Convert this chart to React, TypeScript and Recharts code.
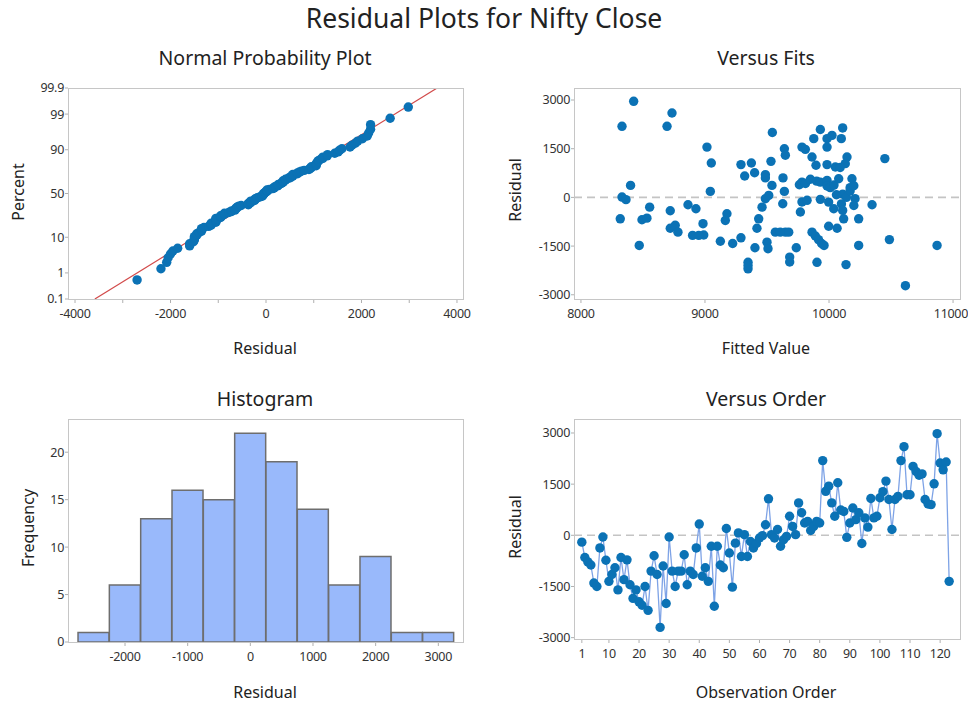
import React from 'react';
import {
  ScatterChart, Scatter, XAxis, YAxis, ReferenceLine, BarChart, Bar,
} from 'recharts';

// ---------- DATA ----------
// Residuals in observation order (Versus Order panel)
const residuals: number[] = [
  -200, -650, -780, -870, -1400, -1500, -370, -50, -730, -1350,
  -1150, -950, -1600, -650, -1300, -720, -1450, -1850, -1600, -1950,
  -2050, -1500, -2200, -1050, -600, -1150, -2700, -900, -2000, -50,
  -1050, -1500, -1050, -1050, -570, -1450, -1050, -1150, -370, 330,
  -1200, -950, -1350, -320, -2080, -320, -870, -950, 200, -520,
  -1520, -230, 70, -620, 20, -620, -180, -370, -240, -80,
  -10, 310, 1070, 20, -80, 170, -320, -130, -30, 560,
  260, 20, 950, 660, 360, 410, 140, 260, 410, 360,
  2190, 1290, 1440, 950, 560, 1540, 740, 700, -60, 360,
  800, 460, 660, -240, 510, 240, 1080, 510, 560, 1100,
  1280, 1590, 1050, 170, 1050, 1140, 2190, 2600, 1190, 1190,
  2020, 1870, 1760, 1800, 1050, 920, 900, 1510, 2980, 2120,
  1920, 2150, -1350,
];

// Versus Fits scatter: fitted values and residuals
const fittedValues: number[] = [
  8425, 8331, 8694, 8734, 8400, 8331, 8363, 8317, 8470, 8554,
  8492, 8532, 8720, 8720, 8760, 8782, 8863, 8927, 8900, 8990,
  8950, 9016, 9051, 9043, 9124, 9177, 9164, 9223, 9290, 9290,
  9320, 9374, 9400, 9347, 9347, 9347, 9403, 9419, 9433, 9460,
  9487, 9514, 9487, 9487, 9532, 9543, 9540, 9500, 9508, 9567,
  9607, 9648, 9675, 9629, 9640, 9627, 9640, 9648, 9683, 9683,
  9736, 9782, 9809, 9761, 9782, 9769, 9782, 9823, 9863, 9895,
  9877, 9930, 9984, 9984, 10024, 10099, 10110, 10145, 10131, 10051,
  9984, 9810, 9850, 9900, 9930, 9984, 9984, 10010, 10040, 10078,
  10185, 10170, 10110, 10140, 10170, 10200, 9930, 9997, 10038, 10100,
  10110, 10210, 10200, 10347, 10239, 10118, 10065, 9997, 9863, 9890,
  9915, 9940, 9960, 10239, 10487, 10450, 9903, 10137, 10616, 10871,
  10060, 10090, 8984,
];
const fitResiduals: number[] = [
  2960, 2190, 2190, 2600, 370, 10, -70, -660, -1480, -300,
  -690, -640, -410, -950, -860, -1070, -225, -350, -1170, -1160,
  -1170, 1550, 1060, 185, -1350, -505, -710, -1420, -1245, 1010,
  660, 1060, 760, -2000, -2200, -2100, -1550, -950, -660, -300,
  -40, 60, 700, 600, 1110, 2000, 370, -1380, -1580, -1070,
  -1070, -1070, -1070, 600, 185, -195, 1500, 1300, -1840, -1990,
  -1550, 1550, 1480, 390, -140, -450, 470, -90, 1245, 990,
  1810, 2090, 1810, 1550, 1910, 1810, 2140, 1245, 1040, 935,
  1010, 430, 560, 500, 470, 525, 350, 300, 380, 575,
  575, 300, 100, 0, 200, 360, -60, -145, -350, -200,
  -400, -40, -250, -225, -660, -660, -950, -890, -1070, -1190,
  -1300, -1420, -1480, -1480, -1300, 1195, -2000, -2070, -2720, -1480,
  80, 920, -810,
];

// Histogram bins (centre of each 500-wide bin) and frequencies
const histBinMids: number[] = [-2500, -2000, -1500, -1000, -500, 0, 500, 1000, 1500, 2000, 2500, 3000];
const histCounts: number[] = [1, 6, 13, 16, 15, 22, 19, 14, 6, 9, 1, 1];

// Normal probability plot: fitted line parameters and percent ticks
const probLineMean = 0;
const probLineSd = 1160;
const probPercents: number[] = [0.1, 1, 10, 50, 90, 99, 99.9];
const probPercentLabels: string[] = ['0.1', '1', '10', '50', '90', '99', '99.9'];

// Tick labels
const probXTicks: number[] = [-4000, -3000, -2000, -1000, 0, 1000, 2000, 3000, 4000];
const fitsXTicks: number[] = [8000, 9000, 10000, 11000];
const residTicks: number[] = [-3000, -1500, 0, 1500, 3000];
const histXTicks: number[] = [-2000, -1000, 0, 1000, 2000, 3000];
const histYTicks: number[] = [0, 5, 10, 15, 20];
const orderXTicks: number[] = [1, 10, 20, 30, 40, 50, 60, 70, 80, 90, 100, 110, 120];

// ---------- helpers ----------
function invNorm(p: number): number {
  const a = [-3.969683028665376e1, 2.209460984245205e2, -2.759285104469687e2, 1.38357751867269e2, -3.066479806614716e1, 2.506628277459239];
  const b = [-5.447609879822406e1, 1.615858368580409e2, -1.556989798598866e2, 6.680131188771972e1, -1.328068155288572e1];
  const c = [-7.784894002430293e-3, -3.223964580411365e-1, -2.400758277161838, -2.549732539343734, 4.374664141464968, 2.938163982698783];
  const d = [7.784695709041462e-3, 3.224671290700398e-1, 2.445134137142996, 3.754408661907416];
  const plow = 0.02425;
  if (p < plow) {
    const q = Math.sqrt(-2 * Math.log(p));
    return (((((c[0] * q + c[1]) * q + c[2]) * q + c[3]) * q + c[4]) * q + c[5]) / ((((d[0] * q + d[1]) * q + d[2]) * q + d[3]) * q + 1);
  }
  if (p <= 1 - plow) {
    const q = p - 0.5;
    const r = q * q;
    return ((((((a[0] * r + a[1]) * r + a[2]) * r + a[3]) * r + a[4]) * r + a[5]) * q) / (((((b[0] * r + b[1]) * r + b[2]) * r + b[3]) * r + b[4]) * r + 1);
  }
  const q = Math.sqrt(-2 * Math.log(1 - p));
  return -(((((c[0] * q + c[1]) * q + c[2]) * q + c[3]) * q + c[4]) * q + c[5]) / ((((d[0] * q + d[1]) * q + d[2]) * q + d[3]) * q + 1);
}

const n = residuals.length;
const probData = [...residuals]
  .sort((x, y) => x - y)
  .map((r, i) => ({ x: r, z: invNorm((i + 1 - 0.3) / (n + 0.4)) }));
const zMin = invNorm(0.001);
const zMax = invNorm(0.999);
const probLineData = [
  { x: probLineMean + probLineSd * zMin, z: zMin },
  { x: probLineMean + probLineSd * zMax, z: zMax },
];
const probYTicks = probPercents.map((p) => invNorm(p / 100));

const fitsData = fittedValues.map((f, i) => ({ x: f, y: fitResiduals[i] }));
const orderData = residuals.map((r, i) => ({ x: i + 1, y: r }));
const histData = histBinMids.map((m, i) => ({ mid: m, count: histCounts[i] }));

// ---------- styles ----------
const FONT = '"Noto Sans", "Open Sans", sans-serif';
const DOT = '#0b72b5';
const BORDER = '#c6c6c6';
const TXT = '#222';
const tickStyle = { fontSize: 12.5, fill: '#333', fontFamily: FONT, letterSpacing: -0.3 };
const tickLine = { stroke: '#b0b0b0' };

type Plot = { l: number; t: number; r: number; b: number };
const P1: Plot = { l: 68, t: 88, r: 463, b: 299 };
const P2: Plot = { l: 574, t: 88, r: 960, b: 299 };
const P3: Plot = { l: 68, t: 419, r: 463, b: 642 };
const P4: Plot = { l: 574, t: 419, r: 960, b: 639 };

const YW = 70;
const XH = 30;
function box(p: Plot) {
  return {
    left: p.l - YW,
    top: p.t - 10,
    width: p.r - p.l + YW + 10,
    height: p.b - p.t + 10 + XH,
    margin: { top: 10, right: 10, left: 0, bottom: 0 },
  };
}

// x tick that keeps the last label inside the page edge
const FitsXTick = (props: any) => {
  const { x, y, payload, index, visibleTicksCount } = props;
  const last = index === (visibleTicksCount ?? fitsXTicks.length) - 1;
  return (
    <text x={x} y={y} dy="0.71em" textAnchor={last ? 'end' : 'middle'} dx={last ? 15 : 0}
      fontSize={12.5} fill="#333" fontFamily={FONT} letterSpacing={-0.3}>
      {payload.value}
    </text>
  );
};

const Dot = (props: any) => {
  const { cx, cy } = props;
  if (cx == null || cy == null) return <g />;
  return <circle cx={cx} cy={cy} r={4.7} fill={DOT} />;
};
const NoDot = () => <g />;

function Text({ x, y, size, children, rotate, weight }: any) {
  return (
    <div
      style={{
        position: 'absolute',
        left: x,
        top: y,
        transform: `translate(-50%, -50%)${rotate ? ' rotate(-90deg)' : ''}`,
        fontSize: size,
        fontFamily: FONT,
        color: TXT,
        whiteSpace: 'nowrap',
        lineHeight: 1,
        fontWeight: weight || 400,
      }}
    >
      {children}
    </div>
  );
}

function Frame({ p }: { p: Plot }) {
  return (
    <div
      style={{
        position: 'absolute',
        left: p.l,
        top: p.t,
        width: p.r - p.l + 1,
        height: p.b - p.t + 1,
        border: `1px solid ${BORDER}`,
        boxSizing: 'border-box',
        pointerEvents: 'none',
      }}
    />
  );
}

function Chart({ p, children }: { p: Plot; children: React.ReactNode }) {
  const b = box(p);
  return <div style={{ position: 'absolute', left: b.left, top: b.top }}>{children}</div>;
}

export default function App() {
  const b1 = box(P1);
  const b2 = box(P2);
  const b3 = box(P3);
  const b4 = box(P4);
  return (
    <div style={{ position: 'absolute', left: 0, top: 0, width: 968, height: 704, background: '#fff', overflow: 'hidden', fontFamily: FONT }}>
      <Text x={484} y={18} size={26.5}>Residual Plots for Nifty Close</Text>

      {/* Normal probability plot */}
      <Text x={265} y={58} size={19.5}>Normal Probability Plot</Text>
      <Chart p={P1}>
        <ScatterChart width={b1.width} height={b1.height} margin={b1.margin}>
          <XAxis type="number" dataKey="x" domain={[-4147, 4126]} ticks={probXTicks} interval={0}
            tickFormatter={(v: number) => (v % 2000 === 0 ? String(v) : '')}
            height={XH} axisLine={false} tickLine={tickLine} tickSize={4} tickMargin={6} tick={tickStyle} allowDataOverflow />
          <YAxis type="number" dataKey="z" domain={[zMin, zMax]} ticks={probYTicks} interval={0}
            tickFormatter={(_v: number, i: number) => probPercentLabels[i]}
            width={YW} axisLine={false} tickLine={tickLine} tickSize={3} tickMargin={1} tick={tickStyle} allowDataOverflow />
          <Scatter data={probLineData} line={{ stroke: '#d24b4b', strokeWidth: 1.2 }} shape={NoDot} isAnimationActive={false} />
          <Scatter data={probData} shape={Dot} isAnimationActive={false} />
        </ScatterChart>
      </Chart>
      <Frame p={P1} />
      <Text x={265} y={348} size={16}>Residual</Text>
      <Text x={18} y={192} size={16} rotate>Percent</Text>

      {/* Versus fits */}
      <Text x={766} y={58} size={19.5}>Versus Fits</Text>
      <Chart p={P2}>
        <ScatterChart width={b2.width} height={b2.height} margin={b2.margin}>
          <XAxis type="number" dataKey="x" domain={[7944, 11056]} ticks={fitsXTicks} interval={0}
            height={XH} axisLine={false} tickLine={tickLine} tickSize={4} tickMargin={6} tick={<FitsXTick />} allowDataOverflow />
          <YAxis type="number" dataKey="y" domain={[-3130, 3370]} ticks={residTicks} interval={0}
            width={YW} axisLine={false} tickLine={tickLine} tickSize={3} tickMargin={1} tick={tickStyle} allowDataOverflow />
          <ReferenceLine y={0} stroke="#c4c4c4" strokeWidth={1.6} strokeDasharray="8 5" />
          <Scatter data={fitsData} shape={Dot} isAnimationActive={false} />
        </ScatterChart>
      </Chart>
      <Frame p={P2} />
      <Text x={766} y={348} size={16}>Fitted Value</Text>
      <Text x={515} y={190} size={16} rotate>Residual</Text>

      {/* Histogram */}
      <Text x={265} y={399} size={19.5}>Histogram</Text>
      <Chart p={P3}>
        <BarChart width={b3.width} height={b3.height} margin={b3.margin} data={histData} barCategoryGap={0} barGap={0}>
          <XAxis type="number" dataKey="mid" domain={[-2910, 3394]} ticks={histXTicks} interval={0}
            height={XH} axisLine={false} tickLine={tickLine} tickSize={4} tickMargin={6} tick={tickStyle} allowDataOverflow />
          <YAxis type="number" domain={[0, 23.5]} ticks={histYTicks} interval={0}
            width={YW} axisLine={false} tickLine={tickLine} tickSize={3} tickMargin={1} tick={tickStyle} allowDataOverflow />
          <Bar dataKey="count" fill="#99b9fb" stroke="#6e6e6e" strokeWidth={1.5} isAnimationActive={false} />
        </BarChart>
      </Chart>
      <Frame p={P3} />
      <Text x={265} y={692} size={16}>Residual</Text>
      <Text x={28} y={528} size={16} rotate>Frequency</Text>

      {/* Versus order */}
      <Text x={766} y={399} size={19.5}>Versus Order</Text>
      <Chart p={P4}>
        <ScatterChart width={b4.width} height={b4.height} margin={b4.margin}>
          <XAxis type="number" dataKey="x" domain={[-1.6, 126.6]} ticks={orderXTicks} interval={0}
            height={XH} axisLine={false} tickLine={tickLine} tickSize={4} tickMargin={6} tick={tickStyle} allowDataOverflow />
          <YAxis type="number" dataKey="y" domain={[-3040, 3410]} ticks={residTicks} interval={0}
            width={YW} axisLine={false} tickLine={tickLine} tickSize={3} tickMargin={1} tick={tickStyle} allowDataOverflow />
          <ReferenceLine y={0} stroke="#c4c4c4" strokeWidth={1.6} strokeDasharray="8 5" />
          <Scatter data={orderData} line={{ stroke: '#7ea3e6', strokeWidth: 1.3 }} lineType="joint" shape={Dot} isAnimationActive={false} />
        </ScatterChart>
      </Chart>
      <Frame p={P4} />
      <Text x={766} y={692} size={16}>Observation Order</Text>
      <Text x={515} y={527} size={16} rotate>Residual</Text>
    </div>
  );
}
